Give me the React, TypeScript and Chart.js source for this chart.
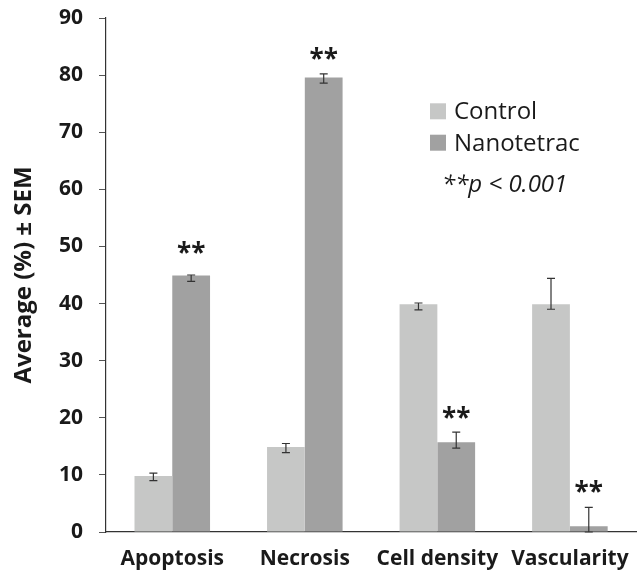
import React, { useEffect, useRef } from "react";
import { Chart, registerables } from "chart.js";

Chart.register(...registerables);

const categories = ["Apoptosis", "Necrosis", "Cell density", "Vascularity"];
const controlValues = [9.8, 14.9, 39.9, 39.9];
const nanoValues = [44.9, 79.6, 15.7, 1.0];
const controlErrHigh = [10.3, 15.5, 40.1, 44.4];
const controlErrLow = [9.0, 13.9, 38.9, 39.0];
const nanoErrHigh = [45.0, 80.2, 17.5, 4.3];
const nanoErrLow = [43.9, 78.6, 14.7, 0.0];
const starLevels = [49.8, 83.7, 20.8, 7.8];
const yTicks = [0, 10, 20, 30, 40, 50, 60, 70, 80, 90];

const CONTROL_COLOR = "#c6c7c6";
const NANO_COLOR = "#a1a1a1";
const FONT = "'Open Sans', 'DejaVu Sans', sans-serif";

const overlayPlugin = {
  id: "overlay",
  afterDatasetsDraw(chart: any) {
    const ctx = chart.ctx;
    const yScale = chart.scales.y;
    const errs = [
      [controlErrLow, controlErrHigh],
      [nanoErrLow, nanoErrHigh],
    ];
    ctx.save();
    ctx.strokeStyle = "#333333";
    ctx.lineWidth = 1.2;
    chart.data.datasets.forEach((ds: any, di: number) => {
      const meta = chart.getDatasetMeta(di);
      meta.data.forEach((bar: any, i: number) => {
        const x = bar.x;
        const yl = yScale.getPixelForValue(errs[di][0][i]);
        const yh = yScale.getPixelForValue(errs[di][1][i]);
        ctx.beginPath();
        ctx.moveTo(x, yl);
        ctx.lineTo(x, yh);
        ctx.moveTo(x - 4, yl);
        ctx.lineTo(x + 4, yl);
        ctx.moveTo(x - 4, yh);
        ctx.lineTo(x + 4, yh);
        ctx.stroke();
      });
    });
    // significance stars
    const nanoMeta = chart.getDatasetMeta(1);
    ctx.fillStyle = "#1a1a1a";
    ctx.font = `bold 26px ${FONT}`;
    ctx.textAlign = "center";
    ctx.textBaseline = "alphabetic";
    nanoMeta.data.forEach((bar: any, i: number) => {
      const y = yScale.getPixelForValue(starLevels[i]);
      ctx.fillText("**", bar.x, y + 14);
    });
    // legend
    ctx.textAlign = "left";
    ctx.font = `24px ${FONT}`;
    const rows = [119.3, 150.7];
    chart.data.datasets.forEach((ds: any, di: number) => {
      const base = rows[di];
      ctx.fillStyle = ds.backgroundColor;
      ctx.fillRect(430, base - 16, 16, 16);
      ctx.fillStyle = "#1a1a1a";
      ctx.fillText(ds.label, 454, base);
    });
    ctx.font = `italic 24px ${FONT}`;
    ctx.fillText("**p < 0.001", 442, 191.5);
    ctx.restore();
  },
};

export default function App() {
  const canvasRef = useRef<HTMLCanvasElement>(null);
  useEffect(() => {
    const chart = new Chart(canvasRef.current as HTMLCanvasElement, {
      type: "bar",
      data: {
        labels: categories,
        datasets: [
          { label: "Control", data: controlValues, backgroundColor: CONTROL_COLOR, borderWidth: 0 },
          { label: "Nanotetrac", data: nanoValues, backgroundColor: NANO_COLOR, borderWidth: 0 },
        ],
      },
      options: {
        animation: false,
        responsive: true,
        maintainAspectRatio: false,
        layout: { padding: { top: 18, right: 3, left: 0, bottom: 0 } },
        datasets: { bar: { categoryPercentage: 0.57, barPercentage: 1.0 } },
        plugins: { legend: { display: false }, tooltip: { enabled: false } },
        scales: {
          x: {
            grid: { display: false, drawTicks: false },
            border: { display: true, color: "#333333", width: 1.2 },
            ticks: { font: { family: FONT, size: 21, weight: "bold" }, color: "#1a1a1a", padding: 14, maxRotation: 0, autoSkip: false },
            afterFit(scale: any) { scale.height = 45; },
          },
          y: {
            min: 0,
            max: 90,
            afterBuildTicks(scale: any) { scale.ticks = yTicks.map((v) => ({ value: v })); },
            grid: { display: true, drawOnChartArea: false, drawTicks: true, tickLength: 7, color: "#555555", lineWidth: 1 },
            border: { display: true, color: "#333333", width: 1.2 },
            ticks: { font: { family: FONT, size: 21, weight: "bold" }, color: "#1a1a1a", padding: 16 },
            title: { display: true, text: "Average (%) ± SEM", font: { family: FONT, size: 24, weight: "bold" }, color: "#1a1a1a", padding: { top: 10, bottom: 0 } },
            afterFit(scale: any) {
              scale.width = 106;
              scale.paddingTop = 12;
              scale.paddingBottom = 12;
            },
          },
        },
      },
      plugins: [overlayPlugin],
    });
    return () => chart.destroy();
  }, []);
  return (
    <div style={{ position: "fixed", left: 0, top: 0, width: 643, height: 577, background: "#fff" }}>
      <canvas ref={canvasRef} style={{ width: 643, height: 577 }} />
    </div>
  );
}
